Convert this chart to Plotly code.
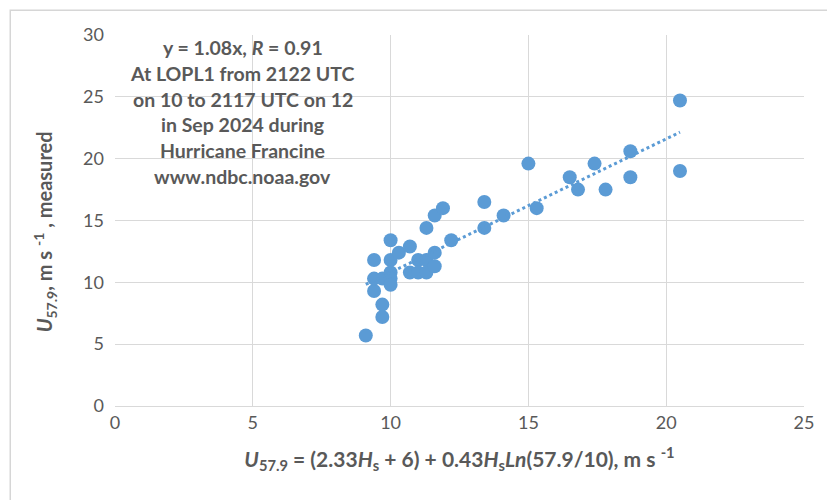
import plotly.graph_objects as go

# Estimated 57.9 m wind speed from significant wave height vs. measured wind speed
u_estimated = [9.1, 9.7, 9.7, 9.4, 9.4, 9.4, 9.7, 10.0, 10.0, 10.0, 10.0, 10.0,
               10.3, 10.7, 10.7, 11.0, 11.0, 11.3, 11.3, 11.3, 11.6, 11.6, 11.6,
               11.9, 12.2, 13.4, 13.4, 14.1, 15.0, 15.3, 16.5, 16.8, 17.4, 17.8,
               18.7, 18.7, 20.5, 20.5]
u_measured = [5.7, 7.2, 8.2, 9.3, 10.3, 11.8, 10.3, 13.4, 11.8, 10.8, 10.3, 9.8,
              12.4, 12.9, 10.8, 11.8, 10.8, 11.8, 10.8, 14.4, 12.4, 11.3, 15.4,
              16.0, 13.4, 16.5, 14.4, 15.4, 19.6, 16.0, 18.5, 17.5, 19.6, 17.5,
              20.6, 18.5, 24.7, 19.0]

slope = 1.08
x_ticks = [0, 5, 10, 15, 20, 25]
y_ticks = [0, 5, 10, 15, 20, 25, 30]

note_lines = [
    "y = 1.08x, <i>R</i> = 0.91",
    "At LOPL1 from 2122 UTC",
    "on 10 to 2117 UTC on 12",
    "in Sep 2024 during",
    "Hurricane Francine",
    "www.ndbc.noaa.gov",
]

blue = "#5b9bd5"
grey_text = "#595959"
grid = "#d9d9d9"
font_family = "Lato, 'Open Sans', sans-serif"

fig = go.Figure()

fig.add_trace(go.Scatter(
    x=u_estimated, y=u_measured, mode="markers",
    marker=dict(size=14, color=blue),
    showlegend=False, hoverinfo="x+y",
))

# Linear fit through the origin
x_fit = [min(u_estimated), max(u_estimated)]
fig.add_trace(go.Scatter(
    x=x_fit, y=[slope * v for v in x_fit], mode="lines",
    line=dict(color=blue, width=3, dash="dot"),
    showlegend=False, hoverinfo="skip",
))

# Text block, one annotation per line for wider line spacing
line_y = [29.0, 26.9, 24.8, 22.75, 20.65, 18.55]
for txt, yy in zip(note_lines, line_y):
    fig.add_annotation(
        x=4.64, y=yy, xref="x", yref="y", text="<b>" + txt + "</b>",
        showarrow=False, font=dict(family=font_family, size=19.5, color=grey_text),
        xanchor="center", yanchor="middle",
    )

# Vertical axis title
fig.add_annotation(
    x=-0.102, y=0.47, xref="paper", yref="paper", textangle=-90,
    text="<b><i>U</i><sub>57.9</sub>, m s <sup>-1</sup> , measured</b>",
    showarrow=False, font=dict(family=font_family, size=20, color=grey_text),
    xanchor="center", yanchor="middle",
)

# Outer chart frame (left and top edges), drawn as one open path in paper units
frame = dict(color="#d6d6d6", width=1.5)
fig.add_shape(type="path", xref="paper", yref="paper", layer="above",
              path="M -0.152 -0.3 L -0.152 1.067 L 1.1 1.067", line=frame)

fig.update_layout(
    width=827, height=500,
    margin=dict(l=115, r=23, t=35, b=94),
    paper_bgcolor="white", plot_bgcolor="white",
    font=dict(family=font_family, size=18, color=grey_text),
    xaxis=dict(
        range=[0, 25], tickvals=x_ticks, showgrid=True, gridcolor=grid, gridwidth=1,
        zeroline=False, showline=True, linecolor=grid, mirror=False,
        ticks="", tickfont=dict(size=18, color=grey_text),
        title=dict(
            text="<b><i>U</i><sub>57.9</sub> = (2.33<i>H</i><sub>s</sub> + 6) + 0.43<i>H</i><sub>s</sub><i>Ln</i>(57.9/10), m s <sup>-1</sup></b>",
            font=dict(size=21, color=grey_text), standoff=20,
        ),
    ),
    yaxis=dict(
        range=[0, 30], tickvals=y_ticks, showgrid=True, gridcolor=grid, gridwidth=1,
        zeroline=False, showline=False, ticklabelstandoff=10,
        ticks="", tickfont=dict(size=18, color=grey_text),
    ),
)

fig.write_html("out.html")
